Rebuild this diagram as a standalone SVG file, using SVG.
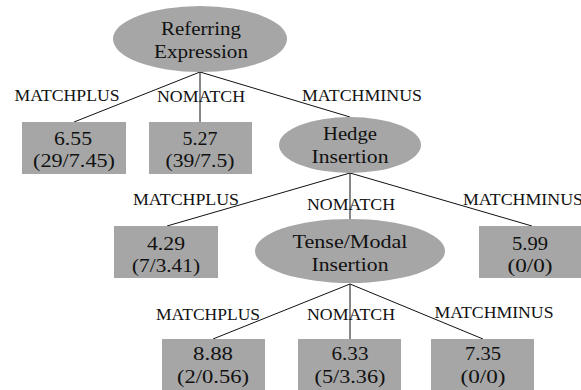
<svg xmlns="http://www.w3.org/2000/svg" width="581" height="390" viewBox="0 0 581 390">
<style>
.n{fill:#a6a6a6;stroke:none}
.t{font-family:"Liberation Serif","DejaVu Serif",serif;font-size:19px;fill:#111;text-anchor:middle}
.l{font-family:"Liberation Serif","DejaVu Serif",serif;font-size:16px;fill:#111;text-anchor:middle}
.e{stroke:#111;stroke-width:1;fill:none}
</style>
<rect width="581" height="390" fill="#fff"/>
<g id="connectors">
<line class="e" x1="200" y1="72" x2="74" y2="122"/>
<line class="e" x1="200" y1="72" x2="200" y2="122"/>
<line class="e" x1="200" y1="72" x2="350" y2="117"/>
<line class="e" x1="350" y1="173" x2="167" y2="226"/>
<line class="e" x1="350" y1="173" x2="350" y2="219"/>
<line class="e" x1="350" y1="173" x2="532" y2="226"/>
<line class="e" x1="350" y1="284" x2="213" y2="339"/>
<line class="e" x1="350" y1="284" x2="350" y2="339"/>
<line class="e" x1="350" y1="284" x2="483" y2="339"/>
</g>
<g id="labels">
<text class="l" x="67" y="101" textLength="105" lengthAdjust="spacingAndGlyphs">MATCHPLUS</text>
<text class="l" x="201" y="102" textLength="88" lengthAdjust="spacingAndGlyphs">NOMATCH</text>
<text class="l" x="362" y="101" textLength="120" lengthAdjust="spacingAndGlyphs">MATCHMINUS</text>
<text class="l" x="186" y="205" textLength="106" lengthAdjust="spacingAndGlyphs">MATCHPLUS</text>
<text class="l" x="351" y="210" textLength="88" lengthAdjust="spacingAndGlyphs">NOMATCH</text>
<text class="l" x="523" y="205" textLength="120" lengthAdjust="spacingAndGlyphs">MATCHMINUS</text>
<text class="l" x="208" y="320" textLength="104" lengthAdjust="spacingAndGlyphs">MATCHPLUS</text>
<text class="l" x="351" y="320" textLength="88" lengthAdjust="spacingAndGlyphs">NOMATCH</text>
<text class="l" x="494" y="318" textLength="119" lengthAdjust="spacingAndGlyphs">MATCHMINUS</text>
</g>
<g id="root">
<ellipse class="n" cx="200" cy="39" rx="87" ry="33"/>
<text class="t" x="201" y="35" textLength="80" lengthAdjust="spacingAndGlyphs">Referring</text>
<text class="t" x="201" y="58" textLength="94" lengthAdjust="spacingAndGlyphs">Expression</text>
</g>
<g id="leaf1">
<rect class="n" x="22" y="122" width="104" height="52"/>
<text class="t" x="73" y="145" textLength="38" lengthAdjust="spacingAndGlyphs">6.55</text>
<text class="t" x="74" y="167" textLength="82" lengthAdjust="spacingAndGlyphs">(29/7.45)</text>
</g>
<g id="leaf2">
<rect class="n" x="149" y="122" width="103" height="52"/>
<text class="t" x="200" y="145" textLength="35" lengthAdjust="spacingAndGlyphs">5.27</text>
<text class="t" x="200" y="167" textLength="69" lengthAdjust="spacingAndGlyphs">(39/7.5)</text>
</g>
<g id="hedge">
<ellipse class="n" cx="350" cy="145" rx="71" ry="28"/>
<text class="t" x="350" y="140" textLength="54" lengthAdjust="spacingAndGlyphs">Hedge</text>
<text class="t" x="350" y="163" textLength="77" lengthAdjust="spacingAndGlyphs">Insertion</text>
</g>
<g id="leaf3">
<rect class="n" x="114" y="226" width="104" height="52"/>
<text class="t" x="166" y="250" textLength="38" lengthAdjust="spacingAndGlyphs">4.29</text>
<text class="t" x="166" y="272" textLength="68" lengthAdjust="spacingAndGlyphs">(7/3.41)</text>
</g>
<g id="tense">
<ellipse class="n" cx="350" cy="251" rx="95" ry="32"/>
<text class="t" x="350" y="248" textLength="115" lengthAdjust="spacingAndGlyphs">Tense/Modal</text>
<text class="t" x="350" y="271" textLength="77" lengthAdjust="spacingAndGlyphs">Insertion</text>
</g>
<g id="leaf4">
<rect class="n" x="479" y="226" width="104" height="52"/>
<text class="t" x="530" y="250" textLength="36" lengthAdjust="spacingAndGlyphs">5.99</text>
<text class="t" x="530" y="272" textLength="45" lengthAdjust="spacingAndGlyphs">(0/0)</text>
</g>
<g id="leaf5">
<rect class="n" x="162" y="339" width="103" height="52"/>
<text class="t" x="213" y="360" textLength="40" lengthAdjust="spacingAndGlyphs">8.88</text>
<text class="t" x="213" y="383" textLength="72" lengthAdjust="spacingAndGlyphs">(2/0.56)</text>
</g>
<g id="leaf6">
<rect class="n" x="298" y="339" width="103" height="52"/>
<text class="t" x="350" y="360" textLength="37" lengthAdjust="spacingAndGlyphs">6.33</text>
<text class="t" x="350" y="383" textLength="71" lengthAdjust="spacingAndGlyphs">(5/3.36)</text>
</g>
<g id="leaf7">
<rect class="n" x="431" y="339" width="103" height="52"/>
<text class="t" x="483" y="360" textLength="36" lengthAdjust="spacingAndGlyphs">7.35</text>
<text class="t" x="483" y="383" textLength="45" lengthAdjust="spacingAndGlyphs">(0/0)</text>
</g>
</svg>
